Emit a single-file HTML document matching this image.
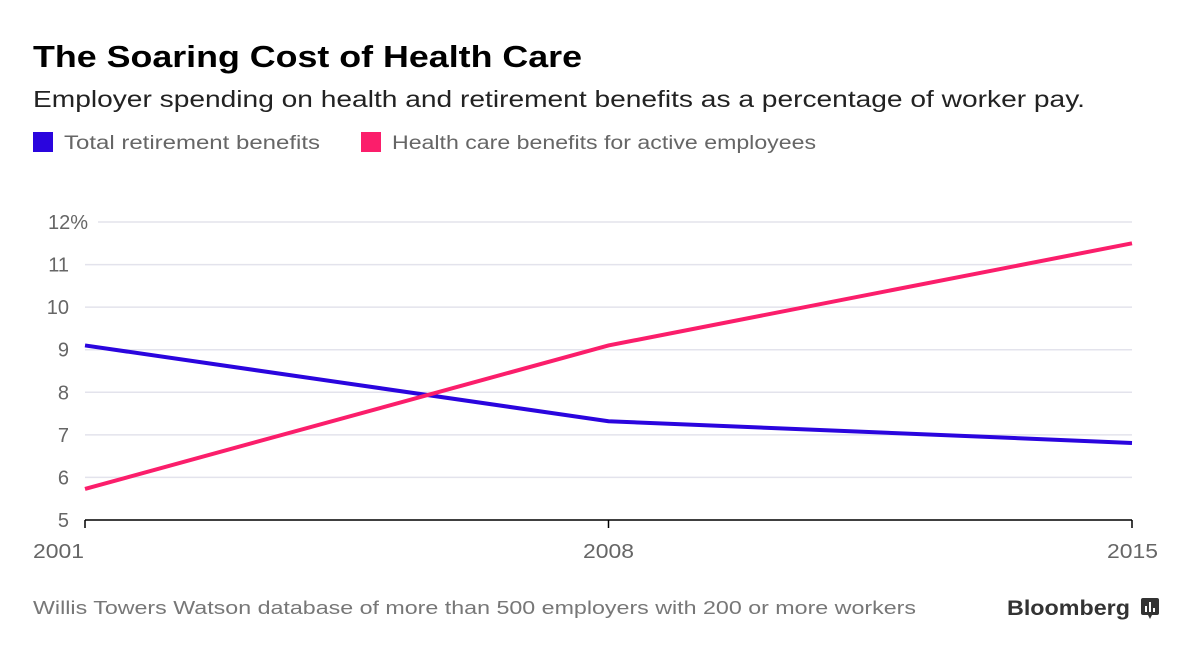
<!DOCTYPE html>
<html><head><meta charset="utf-8"><style>
body{margin:0;width:1200px;height:656px;background:#fff;font-family:"Liberation Sans",sans-serif;overflow:hidden}
svg{position:absolute;left:0;top:0}
</style></head><body>
<svg width="1200" height="656">
<text x="33" y="67" font-size="31" font-weight="bold" fill="#000" textLength="549" lengthAdjust="spacingAndGlyphs">The Soaring Cost of Health Care</text>
<text x="33" y="107" font-size="23" fill="#222" textLength="1052" lengthAdjust="spacingAndGlyphs">Employer spending on health and retirement benefits as a percentage of worker pay.</text>
<g><rect x="33" y="132" width="20" height="20" fill="#2a05de"/><text x="64" y="149" font-size="19" fill="#666" textLength="256" lengthAdjust="spacingAndGlyphs">Total retirement benefits</text></g>
<g><rect x="361" y="132" width="20" height="20" fill="#fb1e6b"/><text x="392" y="149" font-size="19" fill="#666" textLength="424" lengthAdjust="spacingAndGlyphs">Health care benefits for active employees</text></g>
<g id="grid"></g><g id="ylab"></g><g id="xaxis"></g><g id="series"></g>
<text x="33" y="614" font-size="18.5" fill="#777" textLength="883" lengthAdjust="spacingAndGlyphs">Willis Towers Watson database of more than 500 employers with 200 or more workers</text>
<text x="1007" y="615" font-size="21" font-weight="bold" fill="#333" textLength="123" lengthAdjust="spacingAndGlyphs">Bloomberg</text>
<g><rect x="1141" y="598" width="18" height="17" rx="2" fill="#333"/><path d="M1148 615 l2 4 l2 -4z" fill="#333"/><rect x="1145" y="606" width="2" height="6" fill="#fff"/><rect x="1149" y="602" width="2" height="10" fill="#fff"/><rect x="1153" y="608" width="2" height="4" fill="#fff"/></g>
</svg>
<script>
const years=[2001,2008,2015];
const retirement=[9.1,7.32,6.81];
const health=[5.73,9.1,11.5];
const yTicks=[5,6,7,8,9,10,11,12];
const yTickLabels=["5","6","7","8","9","10","11","12%"];
const xTickLabels=["2001","2008","2015"];
const NS="http://www.w3.org/2000/svg";
const x=v=>85+(v-2001)/(2015-2001)*(1132-85);
const y=v=>520-(v-5)/(12-5)*(520-222);
function mk(t,a,p){const e=document.createElementNS(NS,t);for(const k in a)e.setAttribute(k,a[k]);p.appendChild(e);return e;}
const grid=document.getElementById('grid'),yl=document.getElementById('ylab'),xa=document.getElementById('xaxis'),se=document.getElementById('series');
yTicks.forEach((t,i)=>{
 if(t>5){const l=mk('line',{x1:t==12?98:85,x2:1132,y1:y(t),y2:y(t),stroke:'#e3e3ec','stroke-width':1.5},grid);
 
 }
 const tx=mk('text',{x:t==12?88:69,y:y(t)+7,'font-size':20,fill:'#666','text-anchor':'end'},yl);tx.textContent=yTickLabels[i];
 
 
});
const ax=mk('line',{x1:85,x2:1132,y1:520,y2:520,stroke:'#000','stroke-width':1.5},xa);


years.forEach((yr,i)=>{
 mk('line',{x1:x(yr),x2:x(yr),y1:520,y2:528,stroke:'#000','stroke-width':1.5},xa);
 const anchor=i==0?'start':(i==years.length-1?'end':'middle');
 const tx=mk('text',{x:i==0?33:(i==years.length-1?1158:x(yr)),y:558,'font-size':20,fill:'#666','text-anchor':anchor,textLength:51,lengthAdjust:'spacingAndGlyphs'},xa);
 tx.textContent=xTickLabels[i];
 
 
});
function line(vals,c,n){const p=mk('polyline',{points:vals.map((v,i)=>x(years[i])+','+y(v)).join(' '),fill:'none',stroke:c,'stroke-width':4},se);
 
 }
line(retirement,'#2a05de','retirement-line');
line(health,'#fb1e6b','health-care-line');
</script>
</body></html>
